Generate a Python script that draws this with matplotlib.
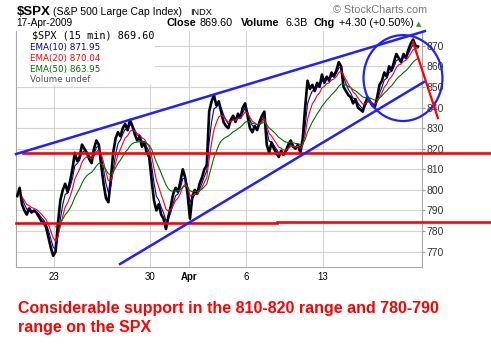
''' SPX 15 min - StockCharts style '''
import numpy as np
import pandas as pd
import matplotlib
matplotlib.use('Agg')
import matplotlib.pyplot as plt
from matplotlib.patches import Ellipse, Rectangle
from matplotlib.lines import Line2D

# dias de pregao (19-mar a 17-abr-2009), 8 fechamentos aproximados por dia
dias = ['19', '20', '23', '24', '25', '26', '27', '30', '31', '1', '2', '3',
        '6', '7', '8', '9', '13', '14', '15', '16', '17']
fechamentos = [
    [797, 801, 793, 790, 788, 791, 789, 790],   # 19
    [789, 787, 785, 784, 782, 777, 772, 768],   # 20
    [770, 784, 795, 800, 803, 799, 804, 810],   # 23
    [818, 814, 816, 822, 820, 818, 815, 813],   # 24
    [820, 824, 822, 812, 803, 796, 794, 805],   # 25
    [818, 825, 828, 826, 830, 832, 829, 834],   # 26
    [831, 827, 824, 826, 821, 823, 818, 816],   # 27
    [805, 795, 790, 793, 788, 786, 781, 787],   # 30
    [792, 798, 801, 799, 804, 810, 806, 798],   # 31
    [786, 797, 800, 798, 803, 806, 810, 812],   # 1
    [838, 843, 846, 841, 843, 838, 833, 831],   # 2
    [830, 834, 836, 833, 837, 835, 840, 842],   # 3
    [836, 830, 828, 831, 829, 833, 836, 838],   # 6
    [822, 818, 823, 820, 818, 816, 819, 817],   # 7
    [819, 822, 824, 821, 820, 822, 818, 825],   # 8
    [840, 853, 849, 851, 848, 852, 850, 856],   # 9
    [852, 855, 853, 857, 855, 858, 862, 860],   # 13
    [850, 848, 846, 845, 842, 844, 840, 839],   # 14
    [838, 842, 845, 843, 841, 840, 845, 851],   # 15
    [853, 857, 855, 860, 858, 862, 866, 864],   # 16
    [862, 866, 864, 868, 871, 873, 870, 869.6],  # 17
]
tick_dias = [2, 7, 9, 12, 16]
tick_labels = ['23', '30', 'Apr', '6', '13']
y_ticks = [770, 780, 790, 800, 810, 820, 830, 840, 850, 860, 870]

# linhas desenhadas pelo analista (dia, preco)
suporte_alto = 817.9
suporte_baixo = [(0.0, 13.6, 783.9), (13.6, 24.7, 784.4)]
tend_sup = [(0.0, 817.4), (21.3, 877.1)]
tend_inf = [(5.42, 764.0), (21.25, 852.4)]
seta = [(20.68, 871.8), (21.98, 834.9)]

W, H = 491, 353


def fx(x):
    return x / W


def fy(y):
    return 1 - y / H


n = len(fechamentos[0])
close = np.array(fechamentos, dtype=float).ravel()
xs = np.repeat(np.arange(len(dias)), n) + np.tile((np.arange(n) + 0.5) / n, len(dias))
s = pd.Series(close)
ema10 = s.ewm(span=10 / 3.25, adjust=False).mean().values
ema20 = s.ewm(span=20 / 3.25, adjust=False).mean().values
ema50 = s.ewm(span=50 / 3.25, adjust=False).mean().values

fig = plt.figure(figsize=(4.91, 3.53), dpi=100)
fig.patch.set_facecolor('white')
ax = fig.add_axes([fx(16), fy(266.7), (422 - 16) / W, (266.7 - 30.7) / H])
ax.set_xlim(0, 21.15)
ax.set_ylim(762.7, 877.3)

ax.set_xticks(tick_dias)
ax.set_xticklabels(tick_labels, fontsize=7, family='Liberation Sans')
ax.get_xticklabels()[2].set_fontweight('bold')
ax.set_yticks(y_ticks)
ax.yaxis.tick_right()
ax.set_yticklabels([str(v) for v in y_ticks], fontsize=7.5,
                   family='Liberation Sans', color='#333333')
ax.tick_params(axis='x', length=0, pad=4)
ax.tick_params(axis='y', length=2, pad=1.5, color='#999999')
ax.grid(True, color='#d4d4d4', lw=0.8)
ax.set_axisbelow(True)
for sp in ax.spines.values():
    sp.set_color('#a8a8a8')
ax.spines['top'].set_visible(False)

ax.plot(xs, close, color='black', lw=1.9, zorder=3)
ax.plot(xs[2:], ema10[2:], color='#0000a0', lw=0.8, zorder=4)
ax.plot(xs[2:], ema20[2:], color='red', lw=0.8, zorder=4)
ax.plot(xs[16:], ema50[16:], color='#007000', lw=0.8, zorder=4)

# linhas de suporte / tendencia
ax.plot([0.36, 24.74], [suporte_alto] * 2, color='red', lw=1.9,
        clip_on=False, zorder=5)
for x0, x1, yv in suporte_baixo:
    ax.plot([x0, x1], [yv, yv], color='red', lw=1.9, clip_on=False, zorder=5)
ax.plot(*zip(*tend_sup), color='#1f1fff', lw=1.8, clip_on=False, zorder=5)
ax.plot(*zip(*tend_inf), color='#1f1fff', lw=1.8, clip_on=False, zorder=5)
ax.add_patch(Ellipse((20.16, 854.3), 4.11, 41.7, fill=False, ec='#1f1fff',
                     lw=1.6, clip_on=False, zorder=5))
ax.plot(*zip(*seta), color='red', lw=1.6, clip_on=False, zorder=5)

# legenda
fig.patches.append(Rectangle((fx(16.5), fy(85)), (155 - 16.5) / W, 54 / H,
                             transform=fig.transFigure, fc='white', ec='none',
                             zorder=2))
fig.text(fx(32), fy(36), '$SPX (15 min) 869.60', family='DejaVu Sans Mono',
         fontsize=7.3, va='center', zorder=6)
for i, xi in enumerate([21, 24, 27]):
    fig.lines.append(Line2D([fx(xi), fx(xi)], [fy(39), fy(33 + i)],
                            transform=fig.transFigure, color='black', lw=1.2))
legenda = [('EMA(10) 871.95', '#0000a0', 47.5), ('EMA(20) 870.04', 'red', 59),
           ('EMA(50) 863.95', '#007000', 69.5)]
for txt, cor, yy in legenda:
    fig.lines.append(Line2D([fx(19.5), fx(29)], [fy(yy), fy(yy)],
                            transform=fig.transFigure, color=cor, lw=1.8))
    fig.text(fx(30), fy(yy), txt, color=cor, family='DejaVu Sans',
             fontsize=6.3, va='center')
for i, xi in enumerate([20, 23, 26]):
    fig.lines.append(Line2D([fx(xi), fx(xi)], [fy(83), fy(78 - i)],
                            transform=fig.transFigure, color='#666666', lw=1.6))
fig.text(fx(30), fy(79), 'Volume undef', color='#555555', family='DejaVu Sans',
         fontsize=6.3, va='center')

# cabecalho
fig.text(fx(16.5), fy(15), '$SPX', fontsize=9.5, fontweight='bold',
         family='Liberation Sans', va='baseline')
fig.text(fx(53), fy(15), '(S&P 500 Large Cap Index)', fontsize=7.6,
         family='Liberation Sans', va='baseline')
fig.text(fx(190), fy(15), 'INDX', fontsize=6.6, family='Liberation Sans',
         va='baseline')
fig.text(fx(16.5), fy(26), '17-Apr-2009', fontsize=7.3,
         family='Liberation Sans', va='baseline')
cab = [(166.7, 'Close', 'bold'), (200, '869.60', 'normal'),
       (241, 'Volume', 'bold'), (286, '6.3B', 'normal'),
       (314, 'Chg', 'bold'), (339, '+4.30 (+0.50%)', 'normal')]
for xx, txt, w in cab:
    fig.text(fx(xx), fy(26), txt, fontsize=7.8, fontweight=w,
             family='Liberation Sans', va='baseline')
fig.text(fx(418.5), fy(24.5), '▲', color='#2e9b2e', fontsize=5,
         ha='center', va='center', family='DejaVu Sans')
fig.text(fx(333), fy(13.3), '© StockCharts.com', color='#777777',
         fontsize=7.8, family='Liberation Sans', va='baseline')

# comentario
fig.text(fx(18.3), fy(313.3),
         'Considerable support in the 810-820 range and 780-790',
         color='red', fontsize=11.5, fontweight='bold',
         family='Liberation Sans', va='baseline')
fig.text(fx(18.3), fy(331.7), 'range on the SPX', color='red', fontsize=11.5,
         fontweight='bold', family='Liberation Sans', va='baseline')

plt.savefig('out.png', dpi=100)
